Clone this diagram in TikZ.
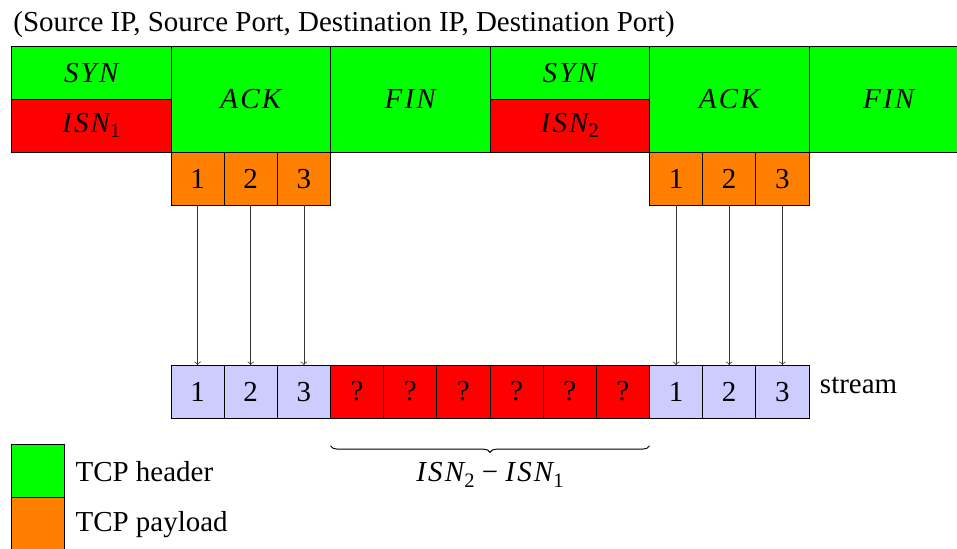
\documentclass[tikz,border=0pt]{standalone}
\usepackage{fontspec}
\setmainfont{Liberation Serif}
\usetikzlibrary{decorations.pathreplacing}
\definecolor{hdrgreen}{RGB}{0,255,0}
\definecolor{isnred}{RGB}{255,0,0}
\definecolor{payorange}{RGB}{255,128,0}
\definecolor{streamblue}{RGB}{204,204,255}
\newcommand\mylet[1]{{\itshape #1}}
\newcommand\mk{\kern1.2pt}
\newcommand\myisn[1]{\mylet{I\mk S\mk N}\raisebox{-2.8pt}{\fontsize{11}{11}\selectfont #1}}
\begin{document}
\begin{tikzpicture}[x=1cm,y=1cm,
  font=\fontsize{15.5}{18}\selectfont,
  cell/.style={draw, line width=0.5pt, inner sep=0pt, outer sep=0pt, minimum width=1cm, minimum height=1cm},
  hdr/.style={cell, fill=hdrgreen, minimum width=3cm},
  isnbox/.style={cell, fill=isnred, minimum width=3cm},
  pay/.style={cell, fill=payorange},
  strm/.style={cell, fill=streamblue},
  gap/.style={cell, fill=isnred},
  conn/.style={->, line width=0.4pt, black!80}]
\useasboundingbox (-0.216,0.865) rectangle (17.784,-9.46);

\node[anchor=base west, inner sep=0pt] (title) at (0.03,0.27)
  {(Source IP, Source Port, Destination IP, Destination Port)};

% header row
\node[hdr] (syn1) at (1.5,-0.5) {\mylet{S\mk Y\mk N}};
\node[isnbox] (isn1) at (1.5,-1.5) {\myisn{1}};
\node[hdr, minimum height=2cm] (ack1) at (4.5,-1) {\mylet{A\mk C\mk K}};
\node[hdr, minimum height=2cm] (fin1) at (7.5,-1) {\mylet{F\mk I\mk N}};
\node[hdr] (syn2) at (10.5,-0.5) {\mylet{S\mk Y\mk N}};
\node[isnbox] (isn2) at (10.5,-1.5) {\myisn{2}};
\node[hdr, minimum height=2cm] (ack2) at (13.5,-1) {\mylet{A\mk C\mk K}};
\node[hdr, minimum height=2cm] (fin2) at (16.5,-1) {\mylet{F\mk I\mk N}};

% payloads
\node[pay] (pa1) at (3.5,-2.5) {1};
\node[pay] (pa2) at (4.5,-2.5) {2};
\node[pay] (pa3) at (5.5,-2.5) {3};
\node[pay] (pb1) at (12.5,-2.5) {1};
\node[pay] (pb2) at (13.5,-2.5) {2};
\node[pay] (pb3) at (14.5,-2.5) {3};

% stream
\node[strm] (s1) at (3.5,-6.5) {1};
\node[strm] (s2) at (4.5,-6.5) {2};
\node[strm] (s3) at (5.5,-6.5) {3};
\node[gap] (q1) at (6.5,-6.5) {?};
\node[gap] (q2) at (7.5,-6.5) {?};
\node[gap] (q3) at (8.5,-6.5) {?};
\node[gap] (q4) at (9.5,-6.5) {?};
\node[gap] (q5) at (10.5,-6.5) {?};
\node[gap] (q6) at (11.5,-6.5) {?};
\node[strm] (s4) at (12.5,-6.5) {1};
\node[strm] (s5) at (13.5,-6.5) {2};
\node[strm] (s6) at (14.5,-6.5) {3};
\node[anchor=base west, inner sep=0pt] (streamlbl) at (15.2,-6.53) {stream};

% arrows
\draw[conn] (pa1) -- (s1);
\draw[conn] (pa2) -- (s2);
\draw[conn] (pa3) -- (s3);
\draw[conn] (pb1) -- (s4);
\draw[conn] (pb2) -- (s5);
\draw[conn] (pb3) -- (s6);

% brace
\coordinate (bl) at (6,-7.52);
\coordinate (br) at (12,-7.52);
\draw[decorate, decoration={brace, mirror, amplitude=3.5pt}, line width=0.5pt] (bl) -- (br);
\node[anchor=base, inner sep=0pt] (diff) at (9,-8.2) {\myisn{2} − \myisn{1}};

% legend
\node[cell, fill=hdrgreen] (lg1) at (0.5,-8) {};
\node[anchor=west, inner sep=0.2cm] (lt1) at (lg1.east) {TCP header};
\node[cell, fill=payorange] (lg2) at (0.5,-9) {};
\node[anchor=west, inner sep=0.2cm] (lt2) at (lg2.east) {TCP payload};
\end{tikzpicture}
\end{document}
